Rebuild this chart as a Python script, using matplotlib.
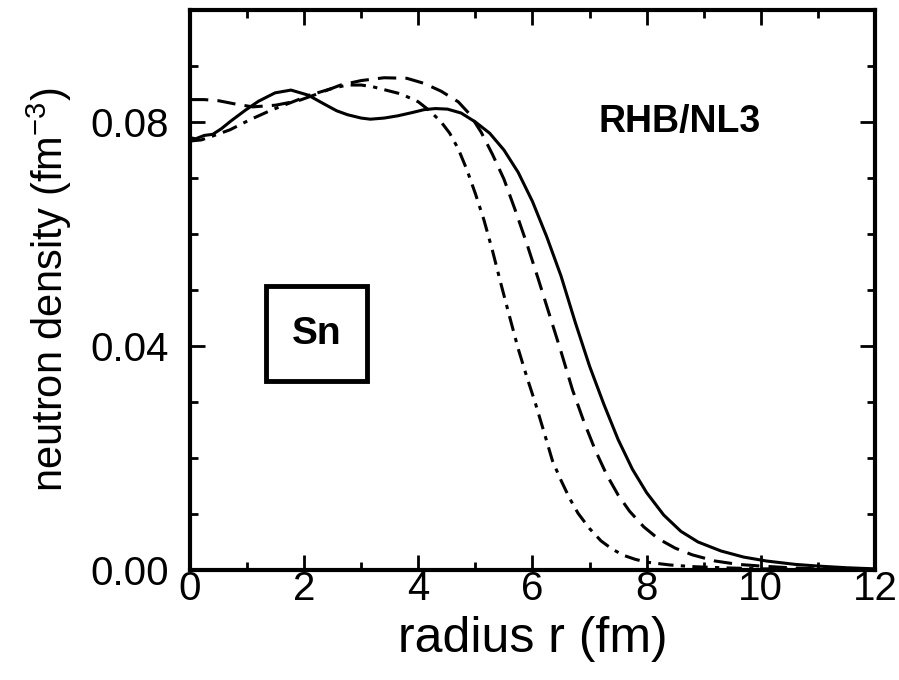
import matplotlib
matplotlib.use('Agg')
import matplotlib.pyplot as plt
from matplotlib.ticker import MultipleLocator, FormatStrFormatter
from matplotlib.patches import Rectangle

plt.rcParams['font.family'] = ['Liberation Sans', 'DejaVu Sans']
plt.rcParams['mathtext.default'] = 'regular'

# solid curve
r_solid = [0.0, 0.1, 0.25, 0.4, 0.55, 0.72, 0.97, 1.2, 1.49, 1.77, 2.07, 2.37,
           2.57, 2.76, 3.0, 3.16, 3.4, 3.64, 3.9, 4.1, 4.3, 4.51, 4.75, 5.0,
           5.25, 5.5, 5.75, 6.0, 6.25, 6.5, 6.75, 7.0, 7.25, 7.5, 7.75, 8.0,
           8.3, 8.6, 8.9, 9.3, 9.7, 10.1, 10.6, 11.0, 11.5, 12.0]
rho_solid = [0.0772, 0.0770, 0.0776, 0.0778, 0.0788, 0.0802, 0.0821, 0.0837,
             0.0852, 0.0857, 0.0848, 0.0831, 0.0820, 0.0813, 0.0807, 0.0805,
             0.0807, 0.0811, 0.0817, 0.0822, 0.0824, 0.0823, 0.0816, 0.0800,
             0.0780, 0.0750, 0.0710, 0.0658, 0.0595, 0.0525, 0.0442, 0.0364,
             0.0296, 0.0233, 0.0180, 0.0138, 0.0098, 0.0069, 0.0050, 0.0034,
             0.0023, 0.0016, 0.0010, 0.0007, 0.0004, 0.0002]

# long dashed curve
r_dash = [0.0, 0.25, 0.5, 0.8, 1.1, 1.5, 1.9, 2.2, 2.64, 3.0, 3.4, 3.8, 4.1,
          4.4, 4.7, 4.9, 5.1, 5.3, 5.5, 5.7, 5.9, 6.1, 6.3, 6.5, 6.7, 6.9,
          7.1, 7.3, 7.5, 7.7, 7.95, 8.2, 8.5, 8.8, 9.2, 9.6, 10.0, 10.5,
          11.0, 12.0]
rho_dash = [0.0840, 0.0840, 0.0838, 0.0832, 0.0827, 0.0830, 0.0838, 0.0849,
            0.0866, 0.0874, 0.0879, 0.0878, 0.0869, 0.0855, 0.0836, 0.0814,
            0.0782, 0.0742, 0.0698, 0.0642, 0.0583, 0.0520, 0.0455, 0.0390,
            0.0322, 0.0265, 0.0214, 0.0170, 0.0134, 0.0105, 0.0077, 0.0056,
            0.0039, 0.0027, 0.0016, 0.0010, 0.0007, 0.0004, 0.0002, 0.0001]

# dash-dot curve
r_dd = [0.0, 0.2, 0.4, 0.7, 1.05, 1.42, 1.8, 2.1, 2.46, 2.75, 3.0, 3.2, 3.43,
        3.7, 4.0, 4.2, 4.4, 4.55, 4.7, 4.85, 5.0, 5.15, 5.3, 5.45, 5.6, 5.75,
        5.9, 6.05, 6.2, 6.35, 6.5, 6.65, 6.8, 7.0, 7.2, 7.4, 7.6, 7.8, 8.0,
        8.4, 8.8, 9.3, 10.0, 11.0, 12.0]
rho_dd = [0.0766, 0.0768, 0.0775, 0.0786, 0.0804, 0.0821, 0.0836, 0.0848,
          0.0859, 0.0866, 0.0866, 0.0863, 0.0857, 0.0850, 0.0836, 0.0820,
          0.0800, 0.0780, 0.0752, 0.0715, 0.0672, 0.0625, 0.0570, 0.0510,
          0.0452, 0.0395, 0.0345, 0.0298, 0.0247, 0.0195, 0.0160, 0.0128,
          0.0101, 0.0074, 0.0052, 0.0037, 0.0026, 0.0019, 0.0014, 0.0009,
          0.0006, 0.0004, 0.0002, 0.0001, 0.0]

fig = plt.figure(figsize=(8.99, 6.80), dpi=100)
ax = fig.add_axes([0.2113, 0.1618, 0.7620, 0.8235])

ax.plot(r_solid, rho_solid, color='black', lw=2.2, solid_capstyle='butt')
ax.plot(r_dash, rho_dash, color='black', lw=2.2, dashes=(6, 3))
ax.plot(r_dd, rho_dd, color='black', lw=2.2, dashes=(5, 2.4, 1.4, 2.4))

ax.set_xlim(0, 12)
ax.set_ylim(0, 0.1)
ax.xaxis.set_major_locator(MultipleLocator(2))
ax.xaxis.set_minor_locator(MultipleLocator(1))
ax.yaxis.set_major_locator(MultipleLocator(0.04))
ax.yaxis.set_minor_locator(MultipleLocator(0.01))
ax.yaxis.set_major_formatter(FormatStrFormatter('%.2f'))

ax.tick_params(which='both', direction='in', top=True, right=True, width=2)
ax.tick_params(which='major', length=11)
ax.tick_params(which='minor', length=6)
ax.tick_params(axis='x', which='major', labelsize=29, pad=0)
ax.tick_params(axis='y', which='major', labelsize=29, pad=15)
for s in ax.spines.values():
    s.set_linewidth(3)

ax.set_xlabel('radius r (fm)', fontsize=36, labelpad=6)
ax.set_ylabel('neutron density (fm$^{-3}$)', fontsize=30, labelpad=12)

ax.text(8.58, 0.0800, 'RHB/NL3', fontsize=27, fontweight='bold',
        ha='center', va='center')
ax.add_patch(Rectangle((1.34, 0.0338), 1.77, 0.0169, fill=False,
                       lw=3.5, edgecolor='black'))
ax.text(2.22, 0.0422, 'Sn', fontsize=28, fontweight='bold',
        ha='center', va='center')

plt.savefig('out.png', dpi=100)
